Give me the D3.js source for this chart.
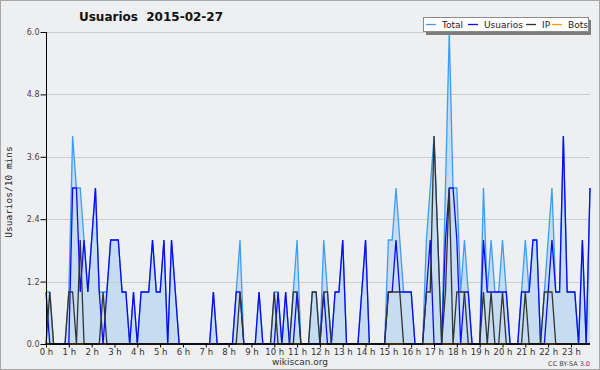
<!DOCTYPE html>
<html>
<head>
<meta charset="utf-8">
<script src="https://cdn.jsdelivr.net/npm/d3@7"></script>
<style>
  body { margin: 0; background: #eeeff1; }
  svg { display: block; }
</style>
</head>
<body>
<svg id="chart" width="600" height="370"></svg>
<script>
// Values per 10 minutes, 144 slots (0 h .. 23 h 50)
const usuarios = [
  1, 0, 0, 0, 0, 0, 0, 3, 3, 1, 2, 1, 2, 3, 1, 0, 1, 2, 2, 2, 1, 1, 0, 1,
  0, 1, 1, 1, 2, 1, 1, 2, 0, 2, 1, 0, 0, 0, 0, 0, 0, 0, 0, 0, 1, 0, 0, 0,
  0, 0, 1, 1, 0, 0, 0, 0, 1, 0, 0, 0, 0, 1, 0, 1, 0, 0, 1, 0, 0, 0, 0, 0,
  0, 1, 0, 0, 1, 1, 2, 0, 0, 0, 0, 1, 2, 0, 0, 0, 0, 0, 1, 1, 2, 1, 1, 1,
  1, 0, 0, 0, 1, 2, 0, 0, 0, 2, 3, 3, 2, 0, 1, 1, 0, 0, 0, 2, 1, 1, 1, 1,
  1, 1, 0, 0, 0, 1, 1, 1, 2, 2, 0, 0, 1, 2, 1, 1, 4, 1, 1, 1, 0, 2, 0, 3
]
const ip = [
  0, 1, 0, 0, 0, 0, 1, 1, 0, 2, 0, 0, 0, 0, 0, 1, 0, 0, 0, 0, 0, 0, 0, 0,
  0, 0, 0, 0, 0, 0, 0, 0, 0, 0, 0, 0, 0, 0, 0, 0, 0, 0, 0, 0, 0, 0, 0, 0,
  0, 0, 0, 1, 0, 0, 0, 0, 0, 0, 0, 0, 1, 0, 0, 0, 0, 1, 1, 0, 0, 0, 1, 1,
  0, 1, 1, 0, 0, 0, 0, 0, 0, 0, 0, 0, 0, 0, 0, 0, 0, 0, 1, 1, 1, 1, 0, 0,
  0, 0, 0, 0, 1, 1, 4, 2, 0, 1, 3, 0, 1, 1, 1, 0, 0, 0, 0, 1, 0, 1, 0, 0,
  1, 0, 0, 0, 0, 0, 1, 0, 0, 0, 0, 1, 1, 1, 0, 0, 0, 0, 0, 0, 0, 0, 0, 0
]
const total = [
  1, 1, 0, 0, 0, 0, 1, 4, 3, 3, 2, 1, 2, 3, 1, 1, 1, 2, 2, 2, 1, 1, 0, 1,
  0, 1, 1, 1, 2, 1, 1, 2, 0, 2, 1, 0, 0, 0, 0, 0, 0, 0, 0, 0, 1, 0, 0, 0,
  0, 0, 1, 2, 0, 0, 0, 0, 1, 0, 0, 0, 1, 1, 0, 1, 0, 1, 2, 0, 0, 0, 1, 1,
  0, 2, 1, 0, 1, 1, 2, 0, 0, 0, 0, 1, 2, 0, 0, 0, 0, 0, 2, 2, 3, 2, 1, 1,
  1, 0, 0, 0, 2, 3, 4, 2, 0, 3, 6, 3, 3, 1, 2, 1, 0, 0, 0, 3, 1, 2, 1, 1,
  2, 1, 0, 0, 0, 1, 2, 1, 2, 2, 0, 1, 2, 3, 1, 1, 4, 1, 1, 1, 0, 2, 0, 3
]
const bots = new Array(144).fill(0)

const yMajor = [0, 1.2, 2.4, 3.6, 4.8, 6.0]
const hourLabels = d3.range(24).map(h => h + ' h')

const legendItems = [
  { name: 'Total', color: '#3d9cf5' },
  { name: 'Usuarios', color: '#0b0bf5' },
  { name: 'IP', color: '#333333' },
  { name: 'Bots', color: '#ff9900' }
]

const svg = d3.select('#chart')
const x = d3.scaleLinear().domain([0, usuarios.length - 1]).range([46, 590])
const y = d3.scaleLinear().domain([0, 6]).range([344, 32])

/**
 * Draws the background, border, title and credits.
 */
function drawFrame () {
  svg.append('rect')
    .attr('x', 0.5).attr('y', 0.5)
    .attr('width', 599).attr('height', 369)
    .attr('fill', '#eeeff1')
    .attr('stroke', '#a8a8a8')

  svg.append('text')
    .attr('x', 151).attr('y', 21)
    .attr('text-anchor', 'middle')
    .attr('font-family', 'DejaVu Sans')
    .attr('font-weight', 'bold')
    .attr('font-size', 12)
    .attr('fill', '#111')
    .attr('xml:space', 'preserve')
    .text('Usuarios  2015-02-27')

  svg.append('text')
    .attr('transform', 'translate(12,192) rotate(-90)')
    .attr('text-anchor', 'middle')
    .attr('font-family', 'DejaVu Sans Mono')
    .attr('font-size', 9.5)
    .attr('fill', '#222')
    .text('Usuarios/10 mins')

  svg.append('text')
    .attr('x', 300).attr('y', 365)
    .attr('text-anchor', 'middle')
    .attr('font-family', 'DejaVu Sans')
    .attr('font-size', 9)
    .attr('fill', '#333')
    .text('wikiscan.org')

  svg.append('text')
    .attr('x', 590).attr('y', 366)
    .attr('text-anchor', 'end')
    .attr('font-family', 'DejaVu Sans')
    .attr('font-size', 6.5)
    .attr('fill', '#444')
    .text('CC BY-SA 3.0')
}

/**
 * Draws the horizontal gridlines at the major y values.
 */
function drawGrid () {
  svg.append('g')
    .selectAll('line')
    .data(yMajor.slice(1))
    .enter()
    .append('line')
    .attr('x1', 46).attr('x2', 590)
    .attr('y1', d => Math.round(y(d)) + 0.5)
    .attr('y2', d => Math.round(y(d)) + 0.5)
    .attr('stroke', '#cdcdcd')
}

/**
 * Draws both axes with their minor ticks, on top of the series.
 */
function drawAxes () {
  const left = svg.append('g')
    .attr('transform', 'translate(46.5,0)')
  left.call(d3.axisLeft(y).tickValues(d3.range(0, 6.01, 0.3)).tickSize(3).tickFormat(''))
  left.call(d3.axisLeft(y).tickValues(yMajor).tickSize(6).tickPadding(1).tickFormat(d3.format('.1f')))
  left.select('.domain').attr('d', 'M0,' + y(6) + 'V' + y(0))
  left.selectAll('text')
    .attr('font-family', 'DejaVu Sans')
    .attr('font-size', 8)
    .attr('fill', '#444')

  const bottom = svg.append('g')
    .attr('transform', 'translate(0,344)')
  bottom.call(d3.axisBottom(x).tickValues(d3.range(0, 144)).tickSize(3.5).tickFormat(''))
  bottom.call(d3.axisBottom(x).tickValues(d3.range(0, 144, 6)).tickSize(3.5).tickPadding(1)
    .tickFormat((d, i) => hourLabels[i]))
  bottom.select('.domain')
    .attr('d', 'M' + (x(0) - 0.5) + ',0H' + x(143))
    .attr('stroke-width', 1.6)
  bottom.selectAll('text')
    .attr('font-family', 'DejaVu Sans')
    .attr('font-size', 8.5)
    .attr('fill', '#333')
}

/**
 * Draws the filled Total area and the four series lines.
 */
function drawSeries () {
  const area = d3.area()
    .x((d, i) => x(i))
    .y0(y(0))
    .y1(d => y(d))
  svg.append('path')
    .datum(total)
    .attr('d', area)
    .attr('fill', '#c6dcf0')

  drawGrid()

  const line = d3.line()
    .x((d, i) => x(i))
    .y(d => y(d))

  const series = [bots, total, usuarios, ip]
  const colors = ['#ff9900', '#3d9cf5', '#0b0bf5', '#333333']
  svg.append('g')
    .selectAll('path')
    .data(series)
    .enter()
    .append('path')
    .attr('d', d => line(d))
    .attr('fill', 'none')
    .attr('stroke', (d, i) => colors[i])
    .attr('stroke-width', 1.3)
    .attr('stroke-linejoin', 'miter')
}

/**
 * Draws the legend box with its shadow at the top right.
 */
function drawLegend () {
  const g = svg.append('g')
  g.append('rect')
    .attr('x', 426).attr('y', 20).attr('width', 165).attr('height', 15)
    .attr('fill', '#7d7d7d')
  g.append('rect')
    .attr('x', 423.5).attr('y', 17.5).attr('width', 165).attr('height', 14)
    .attr('fill', 'white')
    .attr('stroke', '#8a8a8a')

  const starts = [426, 468, 526, 552]
  const items = g.selectAll('.item')
    .data(legendItems)
    .enter()
    .append('g')
    .attr('class', 'item')
    .attr('transform', (d, i) => 'translate(' + starts[i] + ',0)')
  items.append('line')
    .attr('x1', 0).attr('x2', 10)
    .attr('y1', 24.5).attr('y2', 24.5)
    .attr('stroke', d => d.color)
    .attr('stroke-width', 1.3)
  items.append('text')
    .attr('x', 16).attr('y', 28)
    .attr('font-family', 'DejaVu Sans')
    .attr('font-size', 9)
    .attr('fill', '#222')
    .text(d => d.name)
}

drawFrame()
drawSeries()
drawAxes()
drawLegend()
</script>
</body>
</html>
